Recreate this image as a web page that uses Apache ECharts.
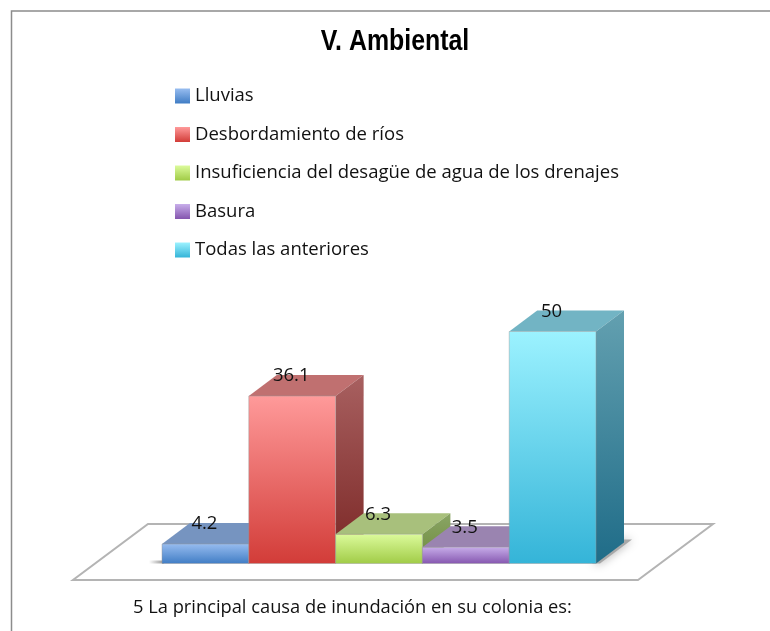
<!DOCTYPE html>
<html>
<head>
<meta charset="utf-8">
<style>
  html, body { margin: 0; padding: 0; background: #fff; }
  #chart { width: 770px; height: 631px; }
</style>
<script src="https://cdn.jsdelivr.net/npm/echarts@6/dist/echarts.min.js"></script>
</head>
<body>
<div id="chart"></div>
<script>
const categories = ['Lluvias', 'Desbordamiento de ríos', 'Insuficiencia del desagüe de agua de los drenajes', 'Basura', 'Todas las anteriores'];
const values = [4.2, 36.1, 6.3, 3.5, 50];
// front top, front bottom, top face, side top, side bottom
const palette = [
  ['#98bdf0', '#3f7cc4', '#7694c0', '#5f7fae', '#3a5f94'],
  ['#ff9a9a', '#d23c38', '#c07070', '#a86060', '#7a2624'],
  ['#dcfb9c', '#a0cb46', '#a8c07c', '#8aa565', '#6d8a3c'],
  ['#c8aeea', '#8455ae', '#9a84b0', '#7f6a98', '#5c4480'],
  ['#9cf2ff', '#34b4d8', '#72b4c4', '#63a0b0', '#1f6c88']
];
const fontName = 'Open Sans';
const depthX = 28;
const depthY = 21;

function vgrad (a, b) {
  return new echarts.graphic.LinearGradient(0, 0, 0, 1, [
    { offset: 0, color: a },
    { offset: 1, color: b }
  ]);
}

function renderBar (params, api) {
  const i = api.value(0);
  const base = api.coord([i, 0]);
  const top = api.coord([i, api.value(1)]);
  const w = api.size([1, 0])[0];
  const x0 = base[0] - w / 2;
  const x1 = base[0] + w / 2;
  const p = palette[i];
  return {
    type: 'group',
    children: [
      {
        type: 'polygon',
        shape: { points: [[x0, top[1]], [x0 + depthX, top[1] - depthY], [x1 + depthX, top[1] - depthY], [x1, top[1]]] },
        style: { fill: p[2] }
      },
      {
        type: 'polygon',
        shape: { points: [[x1, top[1]], [x1 + depthX, top[1] - depthY], [x1 + depthX, base[1] - depthY], [x1, base[1]]] },
        style: { fill: vgrad(p[3], p[4]) }
      },
      {
        type: 'rect',
        shape: { x: x0, y: top[1], width: w, height: base[1] - top[1] },
        style: { fill: vgrad(p[0], p[1]), stroke: 'rgba(150,150,150,0.45)', lineWidth: 1 }
      },
      {
        type: 'text',
        z2: 10,
        style: {
          text: String(api.value(1)),
          x: base[0] - 1,
          y: top[1] - 20,
          align: 'center',
          verticalAlign: 'middle',
          fill: '#111',
          font: '18.5px "' + fontName + '"'
        }
      }
    ]
  };
}

// floor plate and soft shadows around the bars, sized from the grid
function renderFloor (params, api) {
  const g = params.coordSys;
  const yb = g.y + g.height;
  const xr = g.x + g.width;
  return {
    type: 'group',
    children: [
      {
        type: 'polygon',
        shape: { points: [[g.x - 89, yb + 16.5], [xr + 42, yb + 16.5], [xr + 117, yb - 39.5], [g.x - 14, yb - 39.5]] },
        style: { fill: '#fff', stroke: '#b4b4b4', lineWidth: 2 }
      },
      {
        type: 'polygon',
        shape: { points: [[xr - 4, yb], [xr + 4, yb], [xr + 36, yb - 24], [xr + depthX - 4, yb - 24]] },
        style: { fill: '#a8a8a8', shadowBlur: 10, shadowColor: '#a8a8a8' }
      },
      {
        type: 'rect',
        shape: { x: g.x - 13, y: yb - 3, width: 15, height: 3 },
        style: {
          fill: new echarts.graphic.LinearGradient(0, 0, 1, 0, [
            { offset: 0, color: 'rgba(120,120,120,0)' },
            { offset: 1, color: 'rgba(120,120,120,0.8)' }
          ])
        }
      }
    ]
  };
}

const series = [{
  type: 'custom',
  name: 'piso',
  silent: true,
  renderItem: renderFloor,
  data: [[0, 0]],
  encode: { x: 0, y: 1 },
  clip: false,
  z: 1
}];
categories.forEach((name, i) => {
  series.push({
    type: 'custom',
    name,
    renderItem: renderBar,
    data: [[i, values[i]]],
    encode: { x: 0, y: 1 },
    clip: false,
    z: 2 + i,
    itemStyle: { color: palette[i][1] }
  });
});

const option = {
  animation: false,
  backgroundColor: '#fff',
  title: {
    text: '5 La principal causa de inundación en su colonia es:',
    left: 133,
    top: 599,
    padding: 0,
    textStyle: { fontFamily: fontName, fontSize: 18.3, fontWeight: 'normal', color: '#111' }
  },
  legend: {
    orient: 'vertical',
    left: 175,
    top: 86.5,
    padding: 0,
    itemWidth: 15,
    itemHeight: 15,
    itemGap: 19.5,
    icon: 'rect',
    textStyle: { fontFamily: fontName, fontSize: 18.5, color: '#111' },
    data: categories.map((name, i) => ({
      name,
      itemStyle: { color: vgrad(palette[i][0], palette[i][1]) }
    }))
  },
  grid: { left: 162, top: 331.5, width: 434, height: 232 },
  xAxis: { type: 'category', data: categories, show: false },
  yAxis: { type: 'value', min: 0, max: 50, show: false },
  graphic: [
    {
      type: 'polyline',
      silent: true,
      shape: { points: [[11.5, 631], [11.5, 11], [770, 11]] },
      style: { fill: 'none', stroke: '#8c8c8c', lineWidth: 1.5 }
    },
    {
      // narrow bold title
      type: 'text',
      x: 395,
      y: 42,
      scaleX: 0.83,
      silent: true,
      style: {
        text: 'V. Ambiental',
        align: 'center',
        verticalAlign: 'middle',
        fill: '#000',
        font: 'bold 30px "Liberation Sans"'
      }
    }
  ],
  series
};

const chart = echarts.init(document.getElementById('chart'), null, { renderer: 'canvas' });
chart.setOption(option);
</script>
</body>
</html>
